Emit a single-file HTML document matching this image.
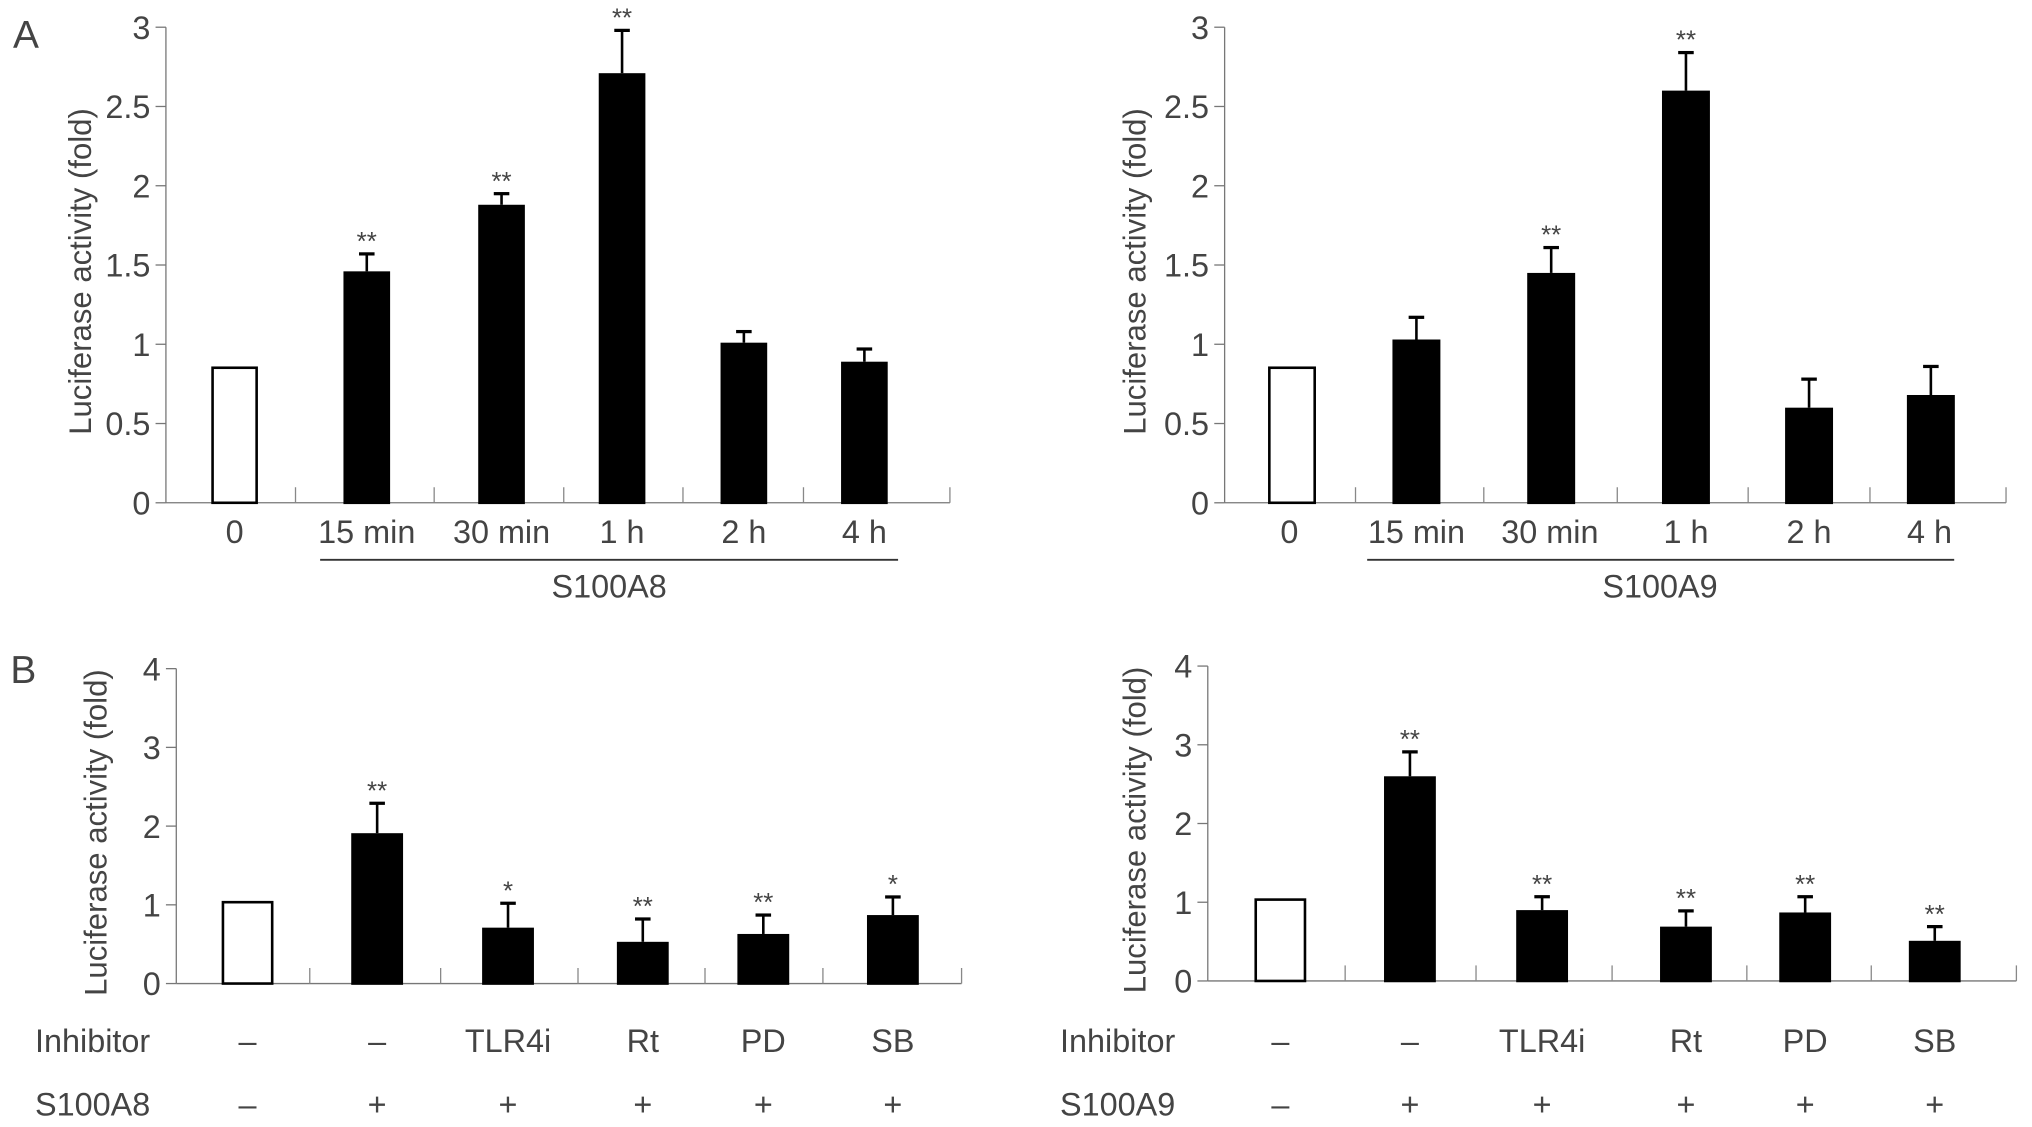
<!DOCTYPE html>
<html><head><meta charset="utf-8"><style>
html,body{margin:0;padding:0;background:#fff;}
svg{display:block;font-family:"Liberation Sans",sans-serif;}
text{fill:#444;}
</style></head><body>
<svg id="fig" width="2032" height="1127" viewBox="0 0 1568 869.7">
<text x="10" y="37" font-size="30">A</text>
<text x="8" y="527" font-size="30">B</text>
</svg>
<script>
// Panel A left (S100A8 time course)
const aCats = ["0","15 min","30 min","1 h","2 h","4 h"];
const aLeftVals = [0.86,1.46,1.88,2.71,1.01,0.89];
const aLeftErr  = [0,0.11,0.07,0.27,0.07,0.08];
const aLeftSig  = ["","**","**","**","",""];
// Panel A right (S100A9 time course)
const aRightVals = [0.86,1.03,1.45,2.60,0.60,0.68];
const aRightErr  = [0,0.14,0.16,0.24,0.18,0.18];
const aRightSig  = ["","","**","**","",""];
const aTicks = [0,0.5,1,1.5,2,2.5,3];
const aTickLabels = ["0","0.5","1","1.5","2","2.5","3"];
// Panel B
const bInhib = ["–","–","TLR4i","Rt","PD","SB"];
const bStim  = ["–","+","+","+","+","+"];
const bLeftVals = [1.05,1.91,0.71,0.53,0.63,0.87];
const bLeftErr  = [0,0.38,0.31,0.29,0.24,0.23];
const bLeftSig  = ["","**","*","**","**","*"];
const bRightVals = [1.05,2.60,0.90,0.69,0.87,0.51];
const bRightErr  = [0,0.31,0.17,0.20,0.20,0.18];
const bRightSig  = ["","**","**","**","**","**"];
const bTicks = [0,1,2,3,4];
const bTickLabels = ["0","1","2","3","4"];

const NS="http://www.w3.org/2000/svg";
const svg=document.getElementById('fig');
function mk(tag,attrs,txt){const e=document.createElementNS(NS,tag);for(const k in attrs)e.setAttribute(k,attrs[k]);if(txt!==undefined)e.textContent=txt;svg.appendChild(e);return e;}

function panel(cfg){
  const y=v=>cfg.y0-(v-cfg.vmin)/(cfg.vmax-cfg.vmin)*(cfg.y0-cfg.y1);
  let e;
  e=mk('line',{x1:cfg.ax,y1:cfg.y1,x2:cfg.ax,y2:cfg.y0,stroke:'#777','stroke-width':1});
  
  
  e=mk('line',{x1:cfg.ax,y1:cfg.y0,x2:cfg.axEnd,y2:cfg.y0,stroke:'#777','stroke-width':1});
  
  
  cfg.ticks.forEach((t,i)=>{
    e=mk('line',{x1:cfg.ax-8,y1:y(t),x2:cfg.ax,y2:y(t),stroke:'#777','stroke-width':1});
    
    
    e=mk('text',{x:cfg.ax-12,y:y(t)+9,'font-size':25,'text-anchor':'end'},cfg.tickLabels[i]);
    
    
  });
  e=mk('text',{x:0,y:0,'font-size':24,'text-anchor':'middle',transform:`translate(${cfg.titleX},${(cfg.y0+cfg.y1)/2+5}) rotate(-90)`},'Luciferase activity (fold)');
  
  
  cfg.sep.forEach(sx=>{
    e=mk('line',{x1:sx,y1:cfg.y0-12,x2:sx,y2:cfg.y0,stroke:'#888','stroke-width':1});
    
    
  });
  cfg.vals.forEach((v,i)=>{
    const cx=cfg.cx[i], w=cfg.bw, top=y(v);
    if(cfg.err[i]>0){
      const et=y(v+cfg.err[i]);
      e=mk('line',{x1:cx,y1:et,x2:cx,y2:top,stroke:'#000','stroke-width':2});
      
      
      e=mk('line',{x1:cx-6,y1:et,x2:cx+6,y2:et,stroke:'#000','stroke-width':2.5});
      
      
    }
    if(i===0){
      e=mk('rect',{x:cx-w/2+1,y:top+1,width:w-2,height:cfg.y0-top-1,fill:'#fff',stroke:'#000','stroke-width':2});
    } else {
      e=mk('rect',{x:cx-w/2,y:top,width:w,height:cfg.y0-top+1,fill:'#000'});
    }
    
    
    if(cfg.sig[i]){
      const st=y(v+cfg.err[i]);
      e=mk('text',{x:cx,y:st-3,'font-size':20,'text-anchor':'middle'},cfg.sig[i]);
      
      
    }
  });
}

panel({id:'a8',ax:128,axEnd:733,y0:388,y1:21,vmin:0,vmax:3,ticks:aTicks,tickLabels:aTickLabels,titleX:70,
  sep:[228,335,435,527,620,733],cx:[181,283,387,480,574,667],bw:36,vals:aLeftVals,err:aLeftErr,sig:aLeftSig});
panel({id:'a9',ax:945,axEnd:1548,y0:388,y1:21,vmin:0,vmax:3,ticks:aTicks,tickLabels:aTickLabels,titleX:884,
  sep:[1046,1145,1248,1349,1443,1548],cx:[997,1093,1197,1301,1396,1490],bw:37,vals:aRightVals,err:aRightErr,sig:aRightSig});
panel({id:'b8',ax:136,axEnd:742,y0:759,y1:516,vmin:0,vmax:4,ticks:bTicks,tickLabels:bTickLabels,titleX:82,
  sep:[239,340,446,544,635,742],cx:[191,291,392,496,589,689],bw:40,vals:bLeftVals,err:bLeftErr,sig:bLeftSig});
panel({id:'b9',ax:932,axEnd:1556,y0:757,y1:514,vmin:0,vmax:4,ticks:bTicks,tickLabels:bTickLabels,titleX:884,
  sep:[1038,1139,1244,1348,1444,1556],cx:[988,1088,1190,1301,1393,1493],bw:40,vals:bRightVals,err:bRightErr,sig:bRightSig});

// Panel A category labels and brackets
[[aCats,[181,283,387,480,574,667],247,693,470,'S100A8','a8'],[aCats,[995,1093,1196,1301,1396,1489],1055,1508,1281,'S100A9','a9']].forEach(p=>{
  let e;
  p[0].forEach((c,i)=>{
    e=mk('text',{x:p[1][i],y:419,'font-size':25,'text-anchor':'middle'},c);
    
    
  });
  e=mk('line',{x1:p[2],y1:432,x2:p[3],y2:432,stroke:'#333','stroke-width':1.5});
  
  
  e=mk('text',{x:p[4],y:461,'font-size':25,'text-anchor':'middle'},p[5]);
  
  
});

// Panel B row labels
[[27,[191,291,392,496,589,689],'S100A8','b8'],[818,[988,1088,1190,1301,1393,1493],'S100A9','b9']].forEach(p=>{
  let e;
  e=mk('text',{x:p[0],y:812,'font-size':25},'Inhibitor');
  
  
  e=mk('text',{x:p[0],y:861,'font-size':25},p[2]);
  
  
  bInhib.forEach((c,i)=>{
    e=mk('text',{x:p[1][i],y:812,'font-size':25,'text-anchor':'middle'},c);
    
    
  });
  bStim.forEach((c,i)=>{
    e=mk('text',{x:p[1][i],y:861,'font-size':25,'text-anchor':'middle'},c);
    
    
  });
});
</script>
</body></html>
